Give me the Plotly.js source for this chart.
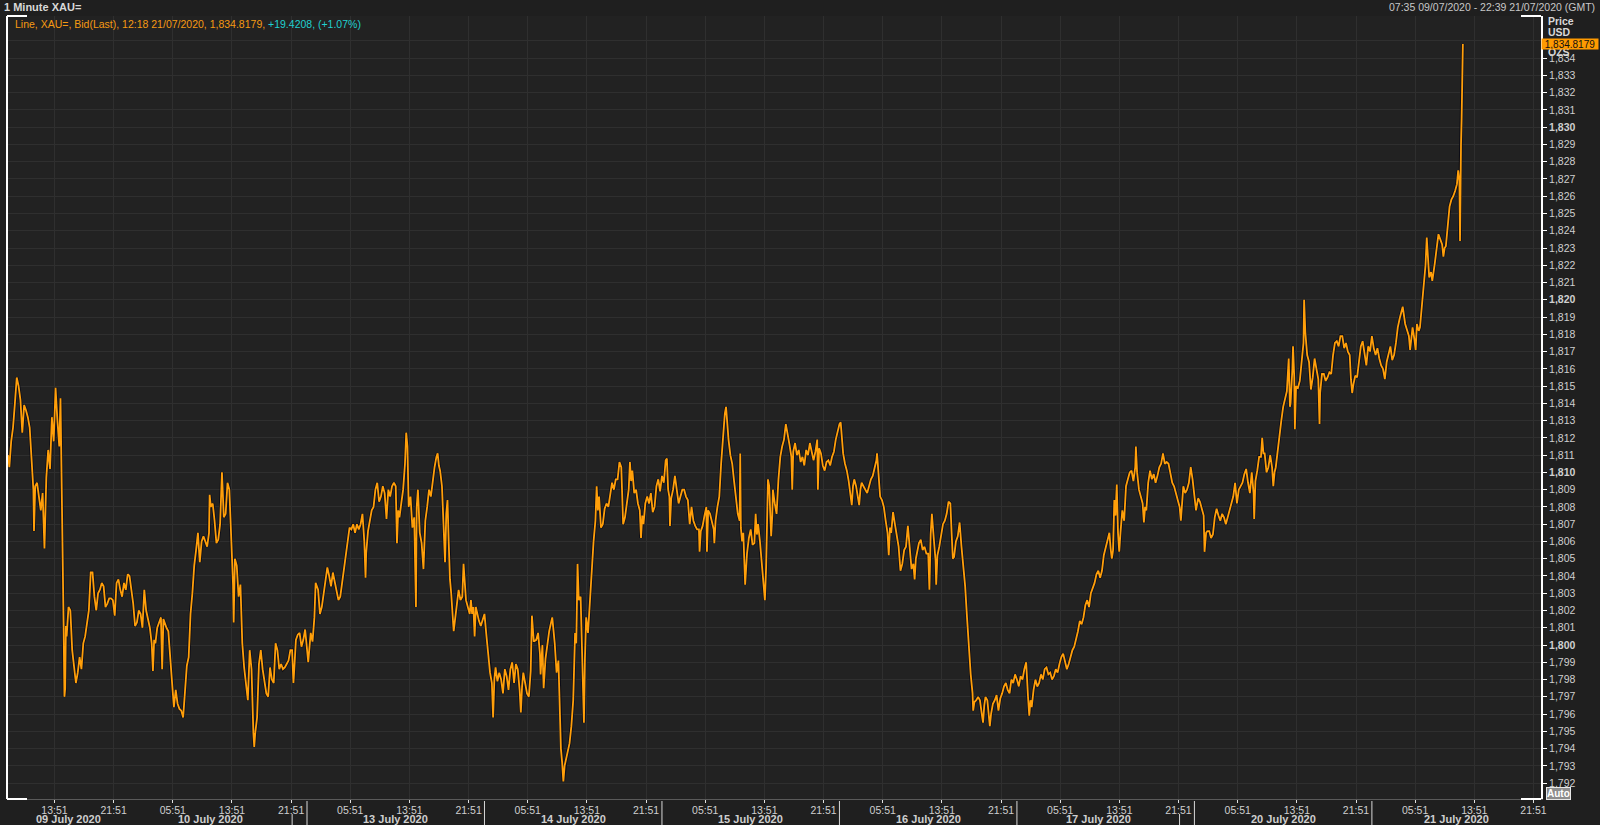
<!DOCTYPE html>
<html>
<head>
<meta charset="utf-8">
<script src="https://cdn.plot.ly/plotly-3.0.1.min.js"></script>
<style>
html,body{margin:0;padding:0;background:#1e1e1e;overflow:hidden;}
#chart{width:1600px;height:825px;}
</style>
</head>
<body>
<div id="chart"></div>
<script>
// ---------- DATA (XAU= bid, 1-minute chart) ----------
const jul09 = [["07:35",1811.0],["07:45",1810.3],["08:00",1811.8],["08:15",1812.6],["08:30",1814.0],["08:45",1815.5],["09:00",1815.0],["09:15",1814.2],["09:30",1812.3],["09:45",1813.9],["10:00",1813.6],["10:15",1813.2],["10:30",1812.6],["10:45",1810.5],["11:00",1809.0],["11:05",1806.6],["11:15",1809.2],["11:30",1809.4],["11:45",1808.4],["12:00",1807.8],["12:15",1808.8],["12:30",1805.6],["12:45",1809.7],["13:00",1811.3],["13:15",1810.2],["13:30",1813.2],["13:45",1811.8],["14:00",1814.9],["14:15",1813.0],["14:30",1811.5],["14:40",1814.3],["14:50",1809.8],["15:00",1805.5],["15:05",1801.3],["15:12",1797.0],["15:18",1797.5],["15:24",1801.1],["15:30",1800.5],["15:45",1802.2],["16:00",1802.0],["16:15",1799.7],["16:30",1798.9],["16:45",1797.8],["17:00",1798.4],["17:15",1799.3],["17:30",1798.6],["17:45",1800.1],["18:00",1800.5],["18:15",1801.4],["18:30",1802.0],["18:45",1804.2],["19:00",1804.2],["19:15",1802.8],["19:30",1802.0],["19:45",1803.0],["20:00",1803.2],["20:15",1803.6],["20:30",1803.4],["20:45",1802.2],["21:00",1802.4],["21:15",1802.7],["21:30",1802.7],["21:45",1802.6],["22:00",1801.7],["22:15",1803.6],["22:30",1803.8],["22:45",1803.2],["23:00",1802.8],["23:15",1803.6],["23:30",1803.2],["23:45",1804.1]];
const jul10 = [["00:00",1804.0],["00:15",1803.2],["00:30",1802.4],["00:45",1801.1],["01:00",1801.3],["01:15",1802.0],["01:30",1801.8],["01:45",1801.0],["02:00",1803.2],["02:15",1802.0],["02:30",1801.4],["02:45",1801.0],["03:00",1800.1],["03:10",1798.5],["03:20",1800.3],["03:30",1800.1],["03:45",1801.0],["04:00",1801.3],["04:15",1801.6],["04:25",1798.6],["04:35",1801.5],["05:00",1801.0],["05:15",1800.8],["05:30",1799.3],["05:45",1797.6],["06:00",1796.4],["06:15",1797.4],["06:30",1796.6],["06:45",1796.3],["07:00",1796.2],["07:15",1795.8],["07:30",1797.4],["07:45",1798.8],["08:00",1799.3],["08:15",1801.8],["08:30",1803.0],["08:45",1804.6],["09:00",1805.5],["09:15",1806.5],["09:30",1804.8],["09:45",1806.0],["10:00",1806.3],["10:15",1806.0],["10:30",1805.7],["10:45",1806.5],["10:50",1808.7],["11:00",1808.0],["11:15",1808.2],["11:30",1807.2],["11:45",1805.9],["12:00",1806.1],["12:15",1807.0],["12:30",1810.0],["12:45",1807.4],["13:00",1807.6],["13:15",1809.4],["13:30",1809.0],["13:45",1806.7],["14:00",1803.5],["14:05",1801.3],["14:15",1805.0],["14:30",1804.6],["14:45",1802.8],["15:00",1803.5],["15:15",1800.1],["15:30",1798.7],["15:45",1797.8],["16:00",1796.8],["16:15",1799.7],["16:30",1798.6],["16:45",1794.9],["16:52",1794.1],["17:00",1794.9],["17:15",1795.8],["17:30",1798.9],["17:45",1799.7],["18:00",1798.6],["18:15",1798.0],["18:30",1797.2],["18:45",1797.0],["19:00",1798.7],["19:15",1798.0],["19:30",1797.8],["19:45",1800.1],["20:00",1799.7],["20:15",1798.6],["20:30",1798.9],["20:45",1798.6],["21:00",1798.7],["21:15",1798.9],["21:30",1799.1],["21:45",1799.7],["21:59",1799.7]];
const jul12 = [["22:00",1799.5],["22:10",1797.8],["22:20",1799.0],["22:30",1800.3],["22:45",1800.6],["23:00",1800.7],["23:15",1799.9],["23:30",1800.3],["23:45",1800.9]];
const jul13 = [["00:00",1799.5],["00:10",1799.0],["00:30",1800.7],["00:45",1800.2],["01:00",1801.6],["01:10",1803.6],["01:30",1803.2],["01:45",1801.8],["02:00",1802.2],["02:15",1803.0],["02:30",1803.6],["02:45",1804.5],["03:00",1804.0],["03:15",1803.4],["03:30",1804.2],["03:45",1803.6],["04:00",1803.2],["04:15",1802.6],["04:30",1802.8],["04:45",1803.6],["05:00",1804.2],["05:15",1804.9],["05:30",1805.7],["05:45",1806.8],["06:00",1806.7],["06:15",1807.0],["06:30",1806.5],["06:45",1807.0],["07:00",1806.7],["07:15",1807.0],["07:30",1807.6],["07:45",1806.0],["07:55",1803.9],["08:00",1805.3],["08:15",1806.6],["08:30",1807.2],["08:45",1807.8],["09:00",1808.0],["09:15",1809.0],["09:30",1809.4],["09:45",1808.3],["10:00",1808.6],["10:15",1809.2],["10:30",1808.8],["10:45",1807.3],["11:00",1809.0],["11:15",1808.6],["11:30",1809.2],["11:45",1809.4],["12:00",1809.2],["12:10",1805.9],["12:20",1807.8],["12:30",1807.4],["12:45",1808.2],["13:00",1809.0],["13:15",1810.5],["13:25",1812.3],["13:35",1811.5],["13:45",1808.0],["14:00",1808.6],["14:15",1806.8],["14:30",1807.4],["14:44",1802.2],["14:50",1808.0],["15:00",1809.0],["15:15",1806.5],["15:30",1805.9],["15:45",1804.4],["16:00",1807.2],["16:15",1808.0],["16:30",1809.0],["16:45",1808.6],["17:00",1809.6],["17:15",1810.3],["17:30",1810.9],["17:40",1811.1],["17:50",1810.4],["18:00",1810.1],["18:15",1809.2],["18:30",1807.0],["18:40",1804.8],["18:50",1807.6],["19:00",1808.4],["19:10",1805.9],["19:20",1803.8],["19:30",1803.0],["19:40",1801.8],["19:50",1800.8],["20:00",1801.4],["20:15",1802.2],["20:30",1803.2],["20:45",1802.6],["21:00",1802.8],["21:10",1804.7],["21:20",1803.4],["21:30",1802.6],["21:45",1802.2],["22:00",1801.8],["22:10",1802.6],["22:20",1801.8],["22:30",1802.2],["22:40",1800.5],["22:50",1802.2],["23:00",1801.8],["23:15",1801.4],["23:30",1801.1],["23:45",1801.4]];
const jul14 = [["00:00",1801.8],["00:15",1800.6],["00:30",1799.5],["00:45",1798.4],["01:00",1797.8],["01:10",1795.8],["01:20",1798.0],["01:30",1798.7],["01:45",1797.9],["02:00",1798.4],["02:15",1798.0],["02:30",1797.2],["02:45",1798.6],["03:00",1798.2],["03:15",1797.4],["03:30",1798.6],["03:45",1799.0],["04:00",1797.8],["04:15",1798.9],["04:30",1798.6],["04:45",1797.4],["04:55",1796.1],["05:05",1797.6],["05:15",1798.4],["05:30",1797.8],["05:45",1797.2],["06:00",1797.0],["06:15",1798.5],["06:25",1801.7],["06:40",1800.2],["07:00",1800.3],["07:15",1800.7],["07:30",1799.5],["07:35",1798.3],["07:50",1800.0],["08:00",1797.5],["08:15",1799.2],["08:30",1800.1],["08:45",1800.8],["09:00",1801.3],["09:10",1801.6],["09:30",1800.1],["09:45",1798.4],["10:00",1799.1],["10:10",1797.0],["10:20",1794.0],["10:30",1793.2],["10:40",1792.1],["10:50",1793.0],["11:00",1793.3],["11:15",1793.8],["11:30",1794.3],["11:45",1795.3],["12:00",1796.8],["12:15",1800.7],["12:25",1800.1],["12:35",1804.7],["12:45",1802.6],["13:00",1802.8],["13:10",1800.5],["13:20",1798.0],["13:27",1795.5],["13:35",1799.2],["13:45",1801.6],["14:00",1800.7],["14:15",1802.5],["14:30",1804.5],["14:45",1806.0],["15:00",1807.2],["15:10",1809.2],["15:20",1807.8],["15:30",1808.6],["15:45",1806.8],["16:00",1807.0],["16:15",1807.9],["16:30",1808.2],["16:45",1808.0],["17:00",1808.8],["17:15",1809.4],["17:30",1809.0],["17:45",1809.6],["18:00",1809.6],["18:15",1810.6],["18:30",1810.3],["18:45",1807.0],["19:00",1807.4],["19:15",1808.3],["19:30",1809.0],["19:40",1810.6],["19:50",1809.5],["20:00",1810.1],["20:15",1808.8],["20:30",1809.0],["20:45",1808.2],["21:00",1807.8],["21:10",1806.2],["21:20",1807.5],["21:30",1807.0],["21:45",1808.2],["22:00",1808.6],["22:15",1808.2],["22:30",1808.8],["22:45",1807.7],["23:00",1808.0],["23:15",1809.2],["23:30",1809.6],["23:45",1808.9]];
const jul15 = [["00:00",1809.8],["00:15",1809.4],["00:30",1810.7],["00:40",1810.8],["00:50",1809.0],["01:00",1808.6],["01:05",1806.9],["01:15",1808.5],["01:30",1809.0],["01:45",1809.8],["02:00",1809.0],["02:15",1808.2],["02:30",1808.6],["02:45",1809.0],["03:00",1809.0],["03:15",1808.6],["03:30",1808.4],["03:45",1807.0],["04:00",1808.0],["04:15",1807.2],["04:30",1806.9],["04:45",1806.7],["05:00",1806.7],["05:05",1805.4],["05:15",1806.6],["05:30",1806.9],["05:45",1807.5],["06:00",1808.0],["06:05",1805.4],["06:15",1807.8],["06:30",1807.6],["06:45",1807.2],["07:00",1806.7],["07:05",1805.9],["07:15",1807.2],["07:30",1808.0],["07:45",1808.6],["08:00",1810.5],["08:15",1812.0],["08:30",1813.4],["08:40",1813.8],["08:50",1812.6],["09:00",1811.9],["09:15",1811.0],["09:30",1810.5],["09:45",1809.5],["10:00",1808.4],["10:15",1807.6],["10:30",1807.2],["10:35",1811.1],["10:40",1806.8],["10:50",1806.0],["11:00",1806.5],["11:15",1803.5],["11:30",1805.3],["11:45",1806.2],["12:00",1806.7],["12:15",1805.8],["12:30",1805.9],["12:40",1807.6],["12:50",1806.4],["13:00",1807.0],["13:15",1806.0],["13:30",1804.7],["13:45",1803.4],["13:55",1802.6],["14:05",1804.5],["14:15",1808.8],["14:20",1809.6],["14:30",1809.2],["14:46",1806.3],["14:55",1807.5],["15:00",1809.0],["15:15",1808.2],["15:30",1807.6],["15:45",1809.6],["16:00",1810.9],["16:15",1811.5],["16:30",1811.9],["16:45",1812.8],["17:00",1812.3],["17:15",1811.6],["17:30",1810.9],["17:37",1809.0],["17:45",1811.2],["18:00",1811.7],["18:15",1811.0],["18:30",1811.3],["18:45",1810.6],["19:00",1810.9],["19:15",1810.4],["19:30",1811.3],["19:45",1811.0],["20:00",1811.7],["20:15",1811.2],["20:30",1810.7],["20:45",1811.2],["21:00",1811.9],["21:05",1809.0],["21:15",1811.4],["21:30",1811.1],["21:45",1810.4],["22:00",1810.1],["22:15",1810.6],["22:30",1810.7],["22:45",1810.4],["23:00",1810.9],["23:15",1811.2],["23:30",1811.9],["23:45",1812.4]];
const jul16 = [["00:00",1812.8],["00:10",1812.9],["00:20",1811.8],["00:30",1811.1],["00:45",1810.5],["01:00",1810.1],["01:15",1809.5],["01:30",1808.8],["01:40",1808.1],["01:50",1809.2],["02:00",1809.6],["02:15",1809.2],["02:30",1808.6],["02:40",1808.1],["02:50",1809.0],["03:00",1809.4],["03:15",1809.2],["03:30",1809.0],["03:45",1808.8],["04:00",1809.2],["04:15",1809.6],["04:30",1809.8],["04:45",1810.3],["05:00",1810.7],["05:05",1811.1],["05:15",1810.0],["05:30",1808.6],["05:45",1808.4],["06:00",1808.0],["06:15",1807.2],["06:30",1806.5],["06:40",1805.2],["06:50",1806.8],["07:00",1806.5],["07:15",1807.7],["07:30",1807.0],["07:45",1806.2],["08:00",1805.7],["08:15",1804.3],["08:30",1804.7],["08:45",1805.5],["09:00",1805.7],["09:15",1806.9],["09:30",1805.8],["09:45",1804.4],["10:00",1804.7],["10:10",1803.8],["10:20",1805.0],["10:30",1805.3],["10:45",1805.9],["11:00",1806.1],["11:15",1805.5],["11:30",1805.7],["11:45",1805.3],["12:00",1805.3],["12:10",1803.2],["12:20",1806.4],["12:30",1807.6],["12:45",1806.2],["13:00",1804.9],["13:05",1803.5],["13:15",1805.2],["13:30",1805.7],["13:45",1806.5],["14:00",1807.0],["14:15",1807.2],["14:30",1807.6],["14:45",1808.3],["15:00",1808.2],["15:10",1806.5],["15:20",1805.0],["15:30",1805.1],["15:45",1806.0],["16:00",1806.3],["16:15",1807.1],["16:30",1805.7],["16:45",1804.6],["17:00",1803.4],["17:15",1801.6],["17:30",1799.9],["17:45",1798.3],["18:00",1797.2],["18:05",1796.2],["18:15",1796.7],["18:30",1796.8],["18:45",1797.0],["19:00",1796.8],["19:15",1796.0],["19:25",1795.5],["19:35",1796.5],["19:45",1797.0],["20:00",1796.8],["20:10",1796.0],["20:20",1795.3],["20:30",1796.0],["20:45",1796.6],["21:00",1796.8],["21:15",1797.1],["21:30",1796.2],["21:45",1796.9],["22:00",1797.2],["22:15",1797.6],["22:30",1797.8],["22:45",1797.4],["23:00",1797.2],["23:15",1798.0],["23:30",1797.8],["23:45",1798.3]];
const jul17 = [["00:00",1798.0],["00:15",1797.6],["00:30",1798.2],["00:45",1798.0],["01:00",1798.6],["01:15",1799.0],["01:30",1797.0],["01:40",1795.9],["01:50",1796.8],["02:00",1796.4],["02:15",1797.4],["02:30",1798.0],["02:45",1797.6],["03:00",1797.8],["03:15",1798.3],["03:30",1798.0],["03:45",1798.6],["04:00",1798.7],["04:15",1798.3],["04:30",1798.4],["04:45",1798.0],["05:00",1798.2],["05:15",1798.6],["05:30",1798.4],["05:45",1798.9],["06:00",1799.3],["06:15",1799.5],["06:30",1799.1],["06:45",1798.6],["07:00",1798.9],["07:15",1799.3],["07:30",1799.7],["07:45",1799.9],["08:00",1800.3],["08:15",1800.8],["08:30",1801.4],["08:45",1801.2],["09:00",1801.6],["09:15",1802.3],["09:30",1802.6],["09:45",1802.2],["10:00",1803.0],["10:15",1803.3],["10:30",1803.6],["10:45",1804.1],["11:00",1804.3],["11:15",1803.9],["11:30",1804.3],["11:45",1805.2],["12:00",1805.7],["12:15",1806.0],["12:30",1806.5],["12:40",1805.6],["12:50",1805.0],["13:00",1805.5],["13:10",1808.4],["13:20",1807.5],["13:30",1809.3],["13:40",1806.5],["13:50",1805.4],["14:00",1806.5],["14:15",1807.8],["14:30",1807.2],["14:45",1809.2],["15:00",1809.6],["15:15",1810.0],["15:30",1810.1],["15:45",1809.5],["16:00",1810.3],["16:05",1811.5],["16:15",1810.0],["16:30",1809.0],["16:45",1808.6],["17:00",1808.2],["17:10",1807.1],["17:20",1808.0],["17:30",1807.8],["17:45",1809.4],["18:00",1810.1],["18:15",1809.6],["18:30",1809.9],["18:45",1809.4],["19:00",1809.8],["19:15",1810.3],["19:30",1810.5],["19:45",1811.1],["20:00",1810.5],["20:15",1810.6],["20:30",1810.5],["20:45",1810.0],["21:00",1809.4],["21:15",1809.2],["21:30",1808.8],["21:45",1808.5],["21:59",1808.1]];
const jul19 = [["22:00",1808.0],["22:10",1807.2],["22:20",1808.6],["22:30",1809.2],["22:45",1808.8],["23:00",1809.0],["23:15",1809.4],["23:30",1810.3],["23:45",1809.6]];
const jul20 = [["00:00",1808.8],["00:13",1807.8],["00:30",1808.5],["00:45",1808.3],["01:00",1807.9],["01:15",1807.5],["01:22",1805.4],["01:35",1806.5],["01:45",1806.6],["02:00",1806.6],["02:15",1806.2],["02:30",1806.4],["02:45",1807.4],["03:00",1807.9],["03:15",1807.5],["03:30",1807.2],["03:45",1807.6],["04:00",1807.4],["04:15",1807.0],["04:30",1807.4],["04:45",1807.8],["05:00",1808.1],["05:15",1808.6],["05:30",1809.4],["05:45",1808.2],["06:00",1809.0],["06:15",1809.2],["06:30",1809.4],["06:45",1809.9],["07:00",1810.2],["07:15",1809.4],["07:30",1808.8],["07:45",1810.0],["08:00",1808.8],["08:05",1807.3],["08:15",1809.5],["08:30",1810.1],["08:45",1810.9],["09:00",1810.9],["09:10",1812.0],["09:20",1811.1],["09:30",1811.1],["09:45",1810.0],["10:00",1810.3],["10:15",1811.0],["10:30",1810.3],["10:40",1809.2],["10:50",1810.0],["11:00",1810.3],["11:15",1811.3],["11:30",1812.3],["11:45",1813.0],["12:00",1813.8],["12:15",1814.3],["12:30",1814.7],["12:45",1816.6],["12:55",1813.8],["13:00",1814.0],["13:15",1816.0],["13:20",1817.3],["13:30",1815.5],["13:35",1812.5],["13:45",1815.0],["14:00",1814.9],["14:15",1815.3],["14:30",1816.4],["14:45",1817.5],["14:50",1820.0],["15:00",1818.1],["15:15",1816.8],["15:30",1816.4],["15:45",1814.8],["16:00",1815.5],["16:15",1816.6],["16:30",1816.0],["16:45",1815.4],["16:55",1812.8],["17:00",1814.6],["17:15",1815.7],["17:30",1815.7],["17:45",1815.3],["18:00",1815.5],["18:15",1815.8],["18:30",1815.7],["18:45",1816.8],["19:00",1817.5],["19:15",1817.6],["19:30",1817.3],["19:45",1817.9],["20:00",1817.9],["20:15",1817.2],["20:30",1817.5],["20:45",1817.0],["21:00",1816.8],["21:10",1815.4],["21:20",1814.6],["21:30",1815.1],["21:45",1815.6],["22:00",1815.5],["22:15",1816.5],["22:30",1817.3],["22:45",1817.6],["23:00",1816.8],["23:15",1816.2],["23:30",1817.3],["23:45",1817.0]];
const jul21 = [["00:00",1817.9],["00:15",1817.2],["00:30",1816.8],["00:45",1817.2],["01:00",1816.6],["01:15",1816.2],["01:30",1816.0],["01:45",1815.4],["02:00",1816.4],["02:15",1816.8],["02:30",1817.3],["02:45",1816.5],["03:00",1816.8],["03:15",1817.5],["03:30",1818.4],["03:45",1818.9],["04:00",1819.3],["04:10",1819.6],["04:30",1818.6],["04:45",1818.3],["05:00",1817.9],["05:10",1817.1],["05:20",1818.0],["05:30",1818.4],["05:45",1817.7],["05:55",1817.1],["06:05",1818.6],["06:20",1818.2],["06:30",1818.4],["06:45",1819.5],["07:00",1820.6],["07:15",1822.0],["07:25",1823.6],["07:35",1822.4],["07:45",1821.3],["08:00",1821.6],["08:10",1821.1],["08:30",1822.1],["08:45",1823.0],["09:00",1823.8],["09:15",1823.5],["09:30",1823.2],["09:40",1822.5],["09:50",1823.0],["10:00",1823.1],["10:15",1824.5],["10:30",1825.4],["10:45",1825.8],["11:00",1826.0],["11:15",1826.3],["11:30",1826.7],["11:40",1827.5],["11:50",1826.9],["11:55",1823.4],["11:58",1827.5],["12:03",1829.0],["12:08",1830.5],["12:13",1832.4],["12:18",1834.82]];

const sessionDates = ["2020-07-09","2020-07-10","2020-07-12","2020-07-13","2020-07-14","2020-07-15","2020-07-16","2020-07-17","2020-07-19","2020-07-20","2020-07-21"];
const sessionData  = [jul09, jul10, jul12, jul13, jul14, jul15, jul16, jul17, jul19, jul20, jul21];

const tickTimes = ["2020-07-09 13:51","2020-07-09 21:51","2020-07-10 05:51","2020-07-10 13:51","2020-07-10 21:51","2020-07-13 05:51","2020-07-13 13:51","2020-07-13 21:51","2020-07-14 05:51","2020-07-14 13:51","2020-07-14 21:51","2020-07-15 05:51","2020-07-15 13:51","2020-07-15 21:51","2020-07-16 05:51","2020-07-16 13:51","2020-07-16 21:51","2020-07-17 05:51","2020-07-17 13:51","2020-07-17 21:51","2020-07-20 05:51","2020-07-20 13:51","2020-07-20 21:51","2020-07-21 05:51","2020-07-21 13:51","2020-07-21 21:51"];
const dayNames = ["09 July 2020","10 July 2020","13 July 2020","14 July 2020","15 July 2020","16 July 2020","17 July 2020","20 July 2020","21 July 2020"];
const dayDates = ["2020-07-09","2020-07-10","2020-07-13","2020-07-14","2020-07-15","2020-07-16","2020-07-17","2020-07-20","2020-07-21"];
const priceTicks = [1792,1793,1794,1795,1796,1797,1798,1799,1800,1801,1802,1803,1804,1805,1806,1807,1808,1809,1810,1811,1812,1813,1814,1815,1816,1817,1818,1819,1820,1821,1822,1823,1824,1825,1826,1827,1828,1829,1830,1831,1832,1833,1834,1835];
const weekendBreaks = ["2020-07-10 22:00:00","2020-07-17 22:00:00"];
const lastPrice = 1834.8179;

// ---------- BUILD ----------
const xs = [], ys = [];
sessionDates.forEach((d, i) => sessionData[i].forEach(([t, p]) => { xs.push(d + " " + t); ys.push(p); }));

const RANGE = ["2020-07-09 07:26:00", "2020-07-21 22:52:00"];
const L = 7, R = 1541, T = 16, B = 799;
const pw = R - L, ph = B - T;
const fx = x => (x - L) / pw;
const fy = y => (B - y) / ph;

const ms = s => Date.parse(s.replace(" ", "T") + (s.length === 16 ? ":00Z" : "Z"));
const iso = v => new Date(v).toISOString().replace("T", " ").slice(0, 19);
const fmt = v => v.toLocaleString("en-US");
const priceText = lastPrice.toFixed(4).replace(/^(\d)(\d{3})/, "$1,$2");

const FONT = "Liberation Sans, Arial, sans-serif";
const TXT = "#cfcfcf";

const annotations = [];
const shapes = [];

// date labels and separators
dayDates.forEach((d, i) => {
  const dayStart = ms(d + " 00:00");
  const isFri = new Date(dayStart).getUTCDay() === 5;
  const s = Math.max(dayStart, ms(RANGE[0]));
  const e = Math.min(isFri ? dayStart + 22 * 3600e3 : dayStart + 24 * 3600e3, ms(RANGE[1]));
  annotations.push({xref: "x", yref: "paper", x: iso((s + e) / 2), y: fy(819), text: "<b>" + dayNames[i] + "</b>",
    showarrow: false, xanchor: "center", yanchor: "middle", font: {family: FONT, size: 11, color: TXT}});
  if (i >= 2) {
    shapes.push({type: "line", xref: "x", yref: "paper", x0: iso(dayStart), x1: iso(dayStart), y0: fy(801), y1: fy(826),
      line: {color: "#d8d8d8", width: 1}});
  }
});
weekendBreaks.forEach(b => {
  const v = iso(ms(b) - 30e3);
  shapes.push({type: "line", xref: "x", yref: "paper", x0: v, x1: v, y0: fy(814), y1: fy(826), line: {color: "#d8d8d8", width: 1}});
});

// frame brackets
const W = "#ffffff";
const stub = 20 / pw;
shapes.push({type: "line", xref: "paper", yref: "paper", x0: 0, x1: 0, y0: 0, y1: 1, line: {color: W, width: 2}});
shapes.push({type: "line", xref: "paper", yref: "paper", x0: 0, x1: stub, y0: 1, y1: 1, line: {color: W, width: 2}});
shapes.push({type: "line", xref: "paper", yref: "paper", x0: 0, x1: stub, y0: 0, y1: 0, line: {color: W, width: 2}});
shapes.push({type: "line", xref: "paper", yref: "paper", x0: 1 - stub, x1: 1, y0: 1, y1: 1, line: {color: W, width: 2}});
shapes.push({type: "line", xref: "paper", yref: "paper", x0: 1 - stub, x1: 1, y0: 0, y1: 0, line: {color: W, width: 2}});

// header texts
annotations.push({xref: "paper", yref: "paper", x: fx(2), y: fy(7.5), xanchor: "left", yanchor: "middle", showarrow: false,
  text: "<b>1 Minute XAU=</b>", font: {family: FONT, size: 11, color: "#d8d8d8"}});
annotations.push({xref: "paper", yref: "paper", x: fx(1597), y: fy(7.5), xanchor: "right", yanchor: "middle", showarrow: false,
  text: "07:35 09/07/2020 - 22:39 21/07/2020 (GMT)", font: {family: FONT, size: 10.5, color: "#c8c8c8"}});
annotations.push({xref: "paper", yref: "paper", x: fx(13), y: fy(24), xanchor: "left", yanchor: "middle", showarrow: false,
  text: '<span style="color:#f59a12">Line, XAU=, Bid(Last), 12:18 21/07/2020, ' + priceText +
        ', </span><span style="color:#20d0d0">+19.4208, (+1.07%)</span>',
  font: {family: FONT, size: 10.5, color: "#f59a12"}});
// right axis header
annotations.push({xref: "paper", yref: "paper", x: fx(1546), y: fy(21), xanchor: "left", yanchor: "middle", showarrow: false,
  text: "<b>Price</b>", font: {family: FONT, size: 10.5, color: "#d8d8d8"}});
annotations.push({xref: "paper", yref: "paper", x: fx(1546), y: fy(32.5), xanchor: "left", yanchor: "middle", showarrow: false,
  text: "<b>USD</b>", font: {family: FONT, size: 10.5, color: "#d8d8d8"}});
annotations.push({xref: "paper", yref: "paper", x: fx(1546), y: fy(52), xanchor: "left", yanchor: "middle", showarrow: false,
  text: "<b>OZS</b>", font: {family: FONT, size: 10.5, color: "#d8d8d8"}});
annotations.push({xref: "paper", yref: "y", x: fx(1541), y: lastPrice, xanchor: "left", yanchor: "middle", showarrow: false,
  text: priceText, bgcolor: "#ff9a00", borderpad: 0, width: 56, height: 10, align: "center",
  font: {family: FONT, size: 10, color: "#111111"}});
annotations.push({xref: "paper", yref: "paper", x: fx(1546), y: fy(793.5), xanchor: "left", yanchor: "middle", showarrow: false,
  text: "<b>Auto</b>", bgcolor: "#8c8c8c", bordercolor: "#e6e6e6", borderwidth: 1, borderpad: 0,
  font: {family: FONT, size: 10, color: "#ffffff"}});

const traces = [
  {x: xs, y: ys, type: "scatter", mode: "lines", line: {color: "#0c0c16", width: 3.4}, hoverinfo: "skip", showlegend: false},
  {x: xs, y: ys, type: "scatter", mode: "lines", line: {color: "#ff9f0a", width: 1.8}, hoverinfo: "skip", showlegend: false}
];

const layout = {
  width: 1600, height: 825,
  margin: {l: L, r: 1600 - R, t: T, b: 825 - B, pad: 0},
  paper_bgcolor: "#1f1f1f", plot_bgcolor: "#222222",
  showlegend: false,
  font: {family: FONT, size: 10, color: TXT},
  xaxis: {
    type: "date", range: RANGE,
    rangebreaks: [{values: weekendBreaks, dvalue: 48 * 3600 * 1000}],
    tickmode: "array", tickvals: tickTimes, ticktext: tickTimes.map(t => t.slice(11)),
    ticks: "outside", ticklen: 3, tickcolor: "#e0e0e0", tickwidth: 1,
    ticklabelstandoff: -2,
    tickfont: {family: FONT, size: 10.5, color: TXT},
    showgrid: true, gridcolor: "#2f2f2f", gridwidth: 1,
    showline: true, linecolor: "#5a5a5a", linewidth: 1,
    zeroline: false, fixedrange: true
  },
  yaxis: {
    side: "right", range: [1791.08, 1836.44],
    tickmode: "array", tickvals: priceTicks,
    ticktext: priceTicks.map(v => v === 1835 ? "" : (v % 10 === 0 ? "<b>" + fmt(v) + "</b>" : fmt(v))),
    ticks: "outside", ticklen: 4, tickcolor: "#ffffff", tickwidth: 1,
    tickfont: {family: FONT, size: 10.5, color: TXT},
    showgrid: true, gridcolor: "#2f2f2f", gridwidth: 1,
    showline: true, linecolor: "#ffffff", linewidth: 2,
    zeroline: false, fixedrange: true
  },
  annotations, shapes
};

Plotly.newPlot("chart", traces, layout, {staticPlot: true, displayModeBar: false});
</script>
</body>
</html>
